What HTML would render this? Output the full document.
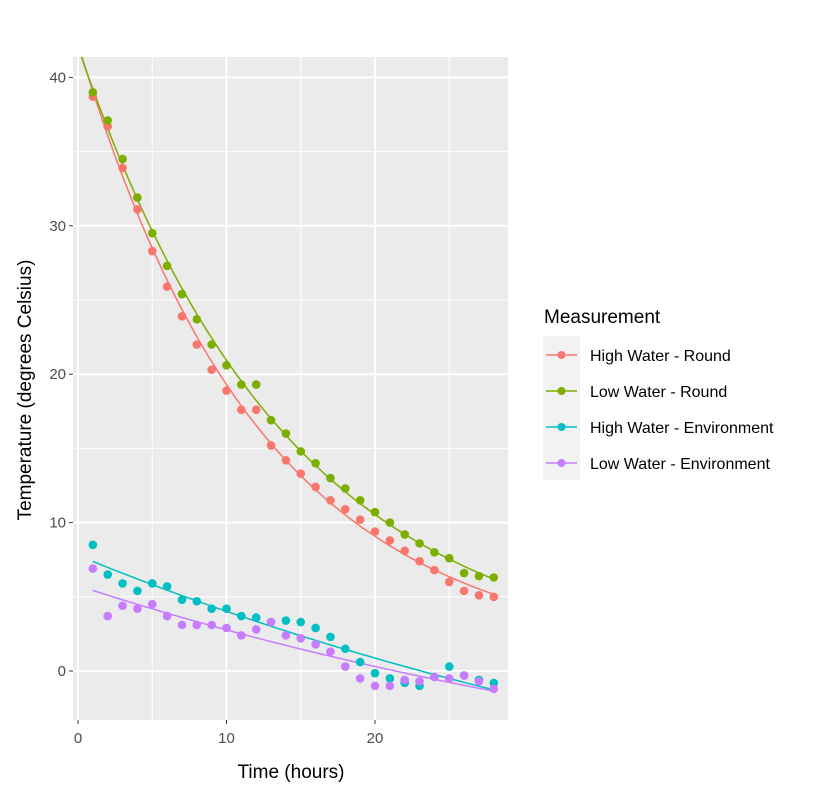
<!DOCTYPE html>
<html><head><meta charset="utf-8"><style>
body{margin:0;background:#fff;}
svg{display:block;font-family:"Liberation Sans",Arial,sans-serif;}
</style></head><body>
<svg id="chart" width="832" height="792" viewBox="0 0 832 792">
<defs><clipPath id="pc"><rect x="73" y="57" width="435" height="663"/></clipPath></defs>
<rect x="73" y="57" width="435" height="663" fill="#ebebeb"/>
<g id="grid"></g>
<g id="lines" clip-path="url(#pc)"></g>
<g id="points"></g>
<g id="axes"></g>
<text x="291" y="778" text-anchor="middle" font-size="19" fill="#000">Time (hours)</text>
<text transform="translate(31,390) rotate(-90)" text-anchor="middle" font-size="19" fill="#000">Temperature (degrees Celsius)</text>
<g>
<text x="544" y="323" font-size="19" fill="#000">Measurement</text>
<rect x="543" y="336" width="37" height="144" fill="#f2f2f2"/>
<g id="legend-items"></g>
</g>
</svg>
<script>
const hours=[1,2,3,4,5,6,7,8,9,10,11,12,13,14,15,16,17,18,19,20,21,22,23,24,25,26,27,28];
const seriesNames=["High Water - Round","Low Water - Round","High Water - Environment","Low Water - Environment"];
const highRound=[38.7,36.7,33.9,31.1,28.3,25.9,23.9,22.0,20.3,18.9,17.6,17.6,15.2,14.2,13.3,12.4,11.5,10.9,10.2,9.4,8.8,8.1,7.4,6.8,6.0,5.4,5.1,5.0];
const lowRound=[39.0,37.1,34.5,31.9,29.5,27.3,25.4,23.7,22.0,20.6,19.3,19.3,16.9,16.0,14.8,14.0,13.0,12.3,11.5,10.7,10.0,9.2,8.6,8.0,7.6,6.6,6.4,6.3];
const highEnv=[8.5,6.5,5.9,5.4,5.9,5.7,4.8,4.7,4.2,4.2,3.7,3.6,3.3,3.4,3.3,2.9,2.3,1.5,0.6,-0.15,-0.5,-0.8,-1.0,-0.4,0.3,-0.3,-0.6,-0.8];
const lowEnv=[6.9,3.7,4.4,4.2,4.5,3.7,3.1,3.1,3.1,2.9,2.4,2.8,3.3,2.4,2.2,1.8,1.3,0.3,-0.5,-1.0,-1.0,-0.6,-0.7,-0.4,-0.5,-0.3,-0.7,-1.2];
const xTicks=[0,10,20];
const yTicks=[0,10,20,30,40];
const xMinor=[5,15,25];
const yMinor=[5,15,25,35];

const colors=["#F8766D","#7CAE00","#00BFC4","#C77CFF"];
const NS="http://www.w3.org/2000/svg";
const X=v=>78+v*14.85;
const Y=v=>671-v*14.84;
const PL=73,PR=508,PT=57,PB=720;
function mk(tag,attrs,parent){const e=document.createElementNS(NS,tag);for(const k in attrs)e.setAttribute(k,attrs[k]);parent.appendChild(e);return e;}
const grid=document.getElementById('grid');
xMinor.forEach(v=>{const l=mk('line',{x1:X(v),x2:X(v),y1:PT,y2:PB,stroke:'#fff','stroke-width':1},grid);

});
yMinor.forEach(v=>{const l=mk('line',{x1:PL,x2:PR,y1:Y(v),y2:Y(v),stroke:'#fff','stroke-width':1},grid);

});
xTicks.forEach(v=>{const l=mk('line',{x1:X(v),x2:X(v),y1:PT,y2:PB,stroke:'#fff','stroke-width':2},grid);

});
yTicks.forEach(v=>{const l=mk('line',{x1:PL,x2:PR,y1:Y(v),y2:Y(v),stroke:'#fff','stroke-width':2},grid);

});
const axes=document.getElementById('axes');
xTicks.forEach(v=>{mk('line',{x1:X(v),x2:X(v),y1:PB,y2:PB+4,stroke:'#333','stroke-width':1},axes);
const t=mk('text',{x:X(v),y:PB+23,'text-anchor':'middle','font-size':15,fill:'#4d4d4d'},axes);t.textContent=v;

});
yTicks.forEach(v=>{mk('line',{x1:PL-4,x2:PL,y1:Y(v),y2:Y(v),stroke:'#333','stroke-width':1},axes);
const t=mk('text',{x:PL-7,y:Y(v)+5,'text-anchor':'end','font-size':15,fill:'#4d4d4d'},axes);t.textContent=v;

});

// exponential fit y = c + a*exp(-b x), grid search on b
function expfit(xs,ys){let best=null;
for(let b=0.001;b<0.3;b+=0.001){const f=xs.map(x=>Math.exp(-b*x));const n=xs.length;
let sf=0,sy=0,sff=0,sfy=0;for(let i=0;i<n;i++){sf+=f[i];sy+=ys[i];sff+=f[i]*f[i];sfy+=f[i]*ys[i];}
const a=(n*sfy-sf*sy)/(n*sff-sf*sf);const c=(sy-a*sf)/n;let e=0;for(let i=0;i<n;i++){const r=ys[i]-c-a*f[i];e+=r*r;}
if(!best||e<best.e)best={a,b,c,e};}
return x=>best.c+best.a*Math.exp(-best.b*x);}
const allSeries=[highRound,lowRound,highEnv,lowEnv];
const starts=[-1,-1,1,1];
const lines=document.getElementById('lines'),pts=document.getElementById('points');
allSeries.forEach((s,si)=>{const fn=expfit(hours,s);let d='';
for(let x=starts[si];x<=28.001;x+=0.25){d+=(d?'L':'M')+X(x).toFixed(1)+','+Y(fn(x)).toFixed(1);}
const p=mk('path',{d:d,fill:'none',stroke:colors[si],'stroke-width':1.5},lines);

});
allSeries.forEach((s,si)=>{s.forEach((v,i)=>{const c=mk('circle',{cx:X(hours[i]),cy:Y(v),r:4.3,fill:colors[si]},pts);

});});
const li=document.getElementById('legend-items');
seriesNames.forEach((n,i)=>{const cy=355+i*36;
const g=mk('g',{},li);


mk('line',{x1:546,x2:577,y1:cy,y2:cy,stroke:colors[i],'stroke-width':1.5},g);
mk('circle',{cx:561.5,cy:cy,r:4,fill:colors[i]},g);
const t=mk('text',{x:590,y:cy+6,'font-size':16,fill:'#000'},g);t.textContent=n;});
</script>
</body></html>
